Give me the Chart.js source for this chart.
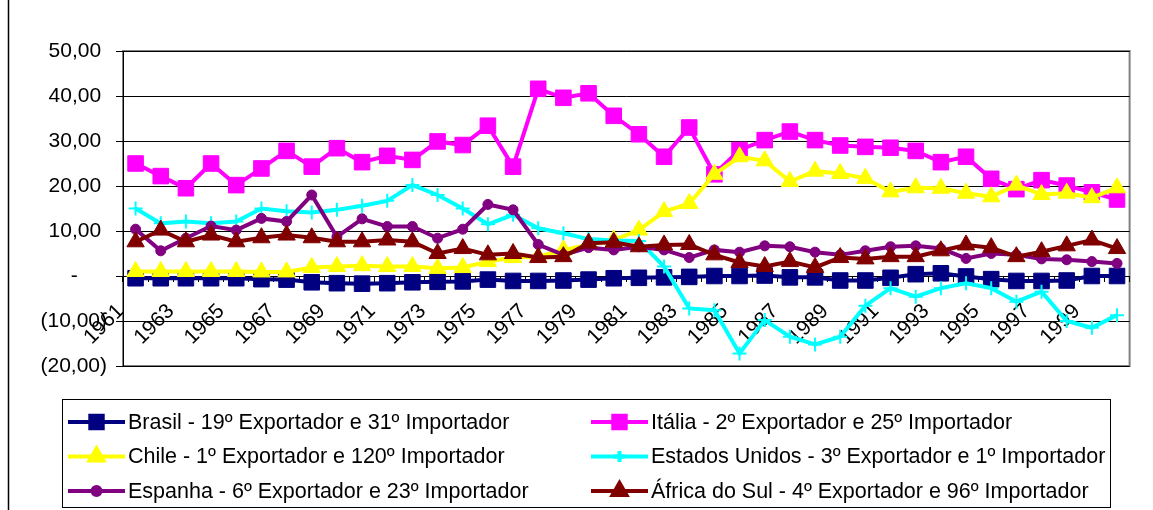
<!DOCTYPE html>
<html>
<head>
<meta charset="utf-8">
<script src="https://cdn.jsdelivr.net/npm/chart.js@4.4.0/dist/chart.umd.min.js"></script>
<style>
  html, body { margin: 0; padding: 0; background: #fff; }
  #wrap { position: relative; width: 1153px; height: 510px; }
</style>
</head>
<body>
<div id="wrap"><canvas id="exportChart" width="1153" height="510"></canvas></div>
<script>
// Data
const years = ['1961', '1962', '1963', '1964', '1965', '1966', '1967', '1968', '1969', '1970',
               '1971', '1972', '1973', '1974', '1975', '1976', '1977', '1978', '1979', '1980',
               '1981', '1982', '1983', '1984', '1985', '1986', '1987', '1988', '1989', '1990',
               '1991', '1992', '1993', '1994', '1995', '1996', '1997', '1998', '1999', '2000'];

const brasil = [-0.5, -0.5, -0.5, -0.5, -0.5, -0.7, -0.8, -1.4, -1.6, -1.7,
                -1.6, -1.4, -1.3, -1.2, -0.8, -1.1, -1.1, -1.0, -0.8, -0.5,
                -0.4, -0.3, -0.2, 0.0, 0.0, 0.1, -0.3, -0.3, -1.0, -1.0,
                -0.4, 0.4, 0.6, -0.1, -0.7, -1.1, -1.1, -1.0, 0.0, 0.0];

const italia = [25.0, 22.2, 19.5, 25.0, 20.2, 23.9, 27.8, 24.3, 28.4, 25.3,
                26.7, 25.8, 29.9, 29.1, 33.4, 24.3, 41.6, 39.6, 40.6, 35.6,
                31.5, 26.5, 33.0, 22.6, 28.0, 30.2, 32.1, 30.2, 29.0, 28.7,
                28.5, 27.8, 25.3, 26.5, 21.6, 19.3, 21.3, 20.1, 18.6, 17.0];

const chile = [1.0, 1.0, 1.0, 1.0, 1.0, 0.9, 0.9, 1.9, 2.1, 2.3,
               2.1, 2.1, 1.7, 1.9, 3.2, 4.1, 4.3, 5.8, 6.9, 8.0,
               10.2, 14.3, 16.1, 22.6, 26.5, 25.6, 21.0, 23.3, 22.8, 21.7,
               18.7, 19.6, 19.5, 18.4, 17.6, 20.2, 18.1, 18.4, 17.4, 19.6];

const estadosUnidos = [15.0, 11.7, 12.1, 11.7, 12.1, 15.0, 14.4, 14.1, 14.7, 15.6,
                       16.7, 20.2, 18.0, 15.0, 11.5, 13.6, 10.6, 9.5, 8.2, 7.9,
                       7.8, 2.1, -7.2, -7.6, -17.2, -9.8, -13.5, -15.2, -13.5, -6.6,
                       -2.7, -4.6, -2.7, -1.6, -2.7, -5.7, -3.5, -10.0, -11.5, -8.7];

const espanha = [10.4, 5.6, 8.4, 11.1, 10.2, 12.8, 12.1, 18.0, 8.7, 12.7,
                 11.0, 11.0, 8.4, 10.4, 15.9, 14.7, 7.0, 4.7, 6.3, 5.8,
                 6.5, 5.8, 4.1, 5.8, 5.3, 6.7, 6.5, 5.3, 4.7, 5.6,
                 6.5, 6.7, 6.1, 3.9, 5.0, 4.7, 3.8, 3.6, 3.2, 2.8];

const africaDoSul = [7.6, 10.2, 7.6, 9.1, 7.6, 8.5, 9.1, 8.5, 7.6, 7.6,
                     8.0, 7.6, 5.0, 6.1, 4.7, 5.0, 4.1, 4.3, 7.3, 7.5,
                     6.5, 6.9, 7.0, 4.7, 3.0, 2.1, 3.2, 1.9, 4.1, 3.8,
                     4.3, 4.3, 5.6, 6.9, 6.3, 4.3, 5.4, 6.7, 8.0, 6.1];

const seriesLabels = [
    'Brasil - 19º Exportador e 31º Importador',
    'Itália - 2º Exportador e 25º Importador',
    'Chile - 1º Exportador e 120º Importador',
    'Estados Unidos - 3º Exportador e 1º Importador',
    'Espanha - 6º Exportador e 23º Importador',
    'África do Sul - 4º Exportador e 96º Importador'
];

Chart.defaults.font.family = "'Liberation Sans', Arial, sans-serif";
Chart.defaults.color = '#000';

function makeSeries(index, data, color, style, radius, borderWidth) {
    return {
        label: seriesLabels[index],
        data: data,
        borderColor: color,
        backgroundColor: color,
        borderWidth: 4,
        tension: 0,
        pointStyle: style,
        pointRadius: radius,
        pointBorderWidth: borderWidth,
        pointBackgroundColor: color,
        pointBorderColor: color,
        // Excel draws later series on top
        order: 6 - index
    };
}

function formatTick(value) {
    if (value === 0) return '-     ';
    const txt = Math.abs(value).toFixed(2).replace('.', ',');
    return value < 0 ? '(' + txt + ')' : txt + ' ';
}

// white background, outer frame line, grey plot-area border
const framePlugin = {
    id: 'frame',
    beforeDraw(chart) {
        const c = chart.ctx;
        const a = chart.chartArea;
        c.save();
        c.fillStyle = '#fff';
        c.fillRect(0, 0, chart.width, chart.height);
        c.strokeStyle = '#000';
        c.lineWidth = 1.5;
        c.beginPath();
        c.moveTo(8.5, 0);
        c.lineTo(8.5, chart.height);
        c.stroke();
        c.strokeStyle = '#808080';
        c.lineWidth = 2;
        c.strokeRect(a.left, a.top, a.right - a.left, a.bottom - a.top);
        c.restore();
    }
};

// two-column boxed legend like the spreadsheet one
const boxLegendPlugin = {
    id: 'boxLegend',
    afterDraw(chart) {
        const c = chart.ctx;
        c.save();
        c.strokeStyle = '#000';
        c.lineWidth = 1;
        c.strokeRect(62.5, 399.5, 1048, 108);
        c.font = "21.5px 'Liberation Sans', Arial, sans-serif";
        c.textBaseline = 'middle';
        c.textAlign = 'left';
        chart.data.datasets.forEach((ds, i) => {
            const col = i % 2;
            const row = Math.floor(i / 2);
            const x0 = col === 0 ? 68 : 591;
            const x1 = col === 0 ? 125 : 648;
            const y = 422 + row * 34.5;
            c.strokeStyle = ds.borderColor;
            c.fillStyle = ds.borderColor;
            c.lineWidth = 4;
            c.beginPath();
            c.moveTo(x0, y);
            c.lineTo(x1, y);
            c.stroke();
            Chart.helpers.drawPoint(c, {
                pointStyle: ds.pointStyle,
                radius: ds.pointRadius * 0.8,
                borderWidth: ds.pointBorderWidth,
                rotation: 0
            }, (x0 + x1) / 2, y);
            c.fillStyle = '#000';
            c.fillText(ds.label, x1 + 3, y + 1);
        });
        c.restore();
    }
};

function initializeChart() {
    const ctx = document.getElementById('exportChart').getContext('2d');
    new Chart(ctx, {
        type: 'line',
        data: {
            labels: years,
            datasets: [
                makeSeries(0, brasil, '#000080', 'rect', 11, 1),
                makeSeries(1, italia, '#FF00FF', 'rect', 11, 1),
                makeSeries(2, chile, '#FFFF00', 'triangle', 10, 1),
                makeSeries(3, estadosUnidos, '#00FFFF', 'cross', 7, 2),
                makeSeries(4, espanha, '#800080', 'circle', 5, 1),
                makeSeries(5, africaDoSul, '#800000', 'triangle', 10, 1)
            ]
        },
        options: {
            responsive: false,
            animation: false,
            layout: {
                padding: { left: 0, top: 51, right: 11, bottom: 144 }
            },
            plugins: {
                legend: { display: false },
                tooltip: { enabled: false }
            },
            scales: {
                x: {
                    position: { y: 0 },
                    offset: true,
                    grid: {
                        offset: true,
                        drawOnChartArea: false,
                        drawTicks: true,
                        tickLength: 5,
                        color: '#000'
                    },
                    border: { display: true, color: '#000', width: 1 },
                    ticks: {
                        autoSkip: false,
                        maxRotation: 45,
                        minRotation: 45,
                        padding: 18,
                        labelOffset: -15,
                        font: { size: 21 },
                        callback: function(value, index) {
                            return index % 2 === 0 ? years[index] : '';
                        }
                    }
                },
                y: {
                    min: -20,
                    max: 50,
                    afterFit: function(scale) {
                        scale.width = 123;
                    },
                    grid: {
                        color: '#000',
                        lineWidth: 1,
                        tickLength: 7
                    },
                    border: { display: true, color: '#000', width: 1 },
                    ticks: {
                        stepSize: 10,
                        padding: 9,
                        font: { size: 21 },
                        callback: formatTick
                    }
                }
            }
        },
        plugins: [framePlugin, boxLegendPlugin]
    });
}

document.addEventListener('DOMContentLoaded', initializeChart);
</script>
</body>
</html>
